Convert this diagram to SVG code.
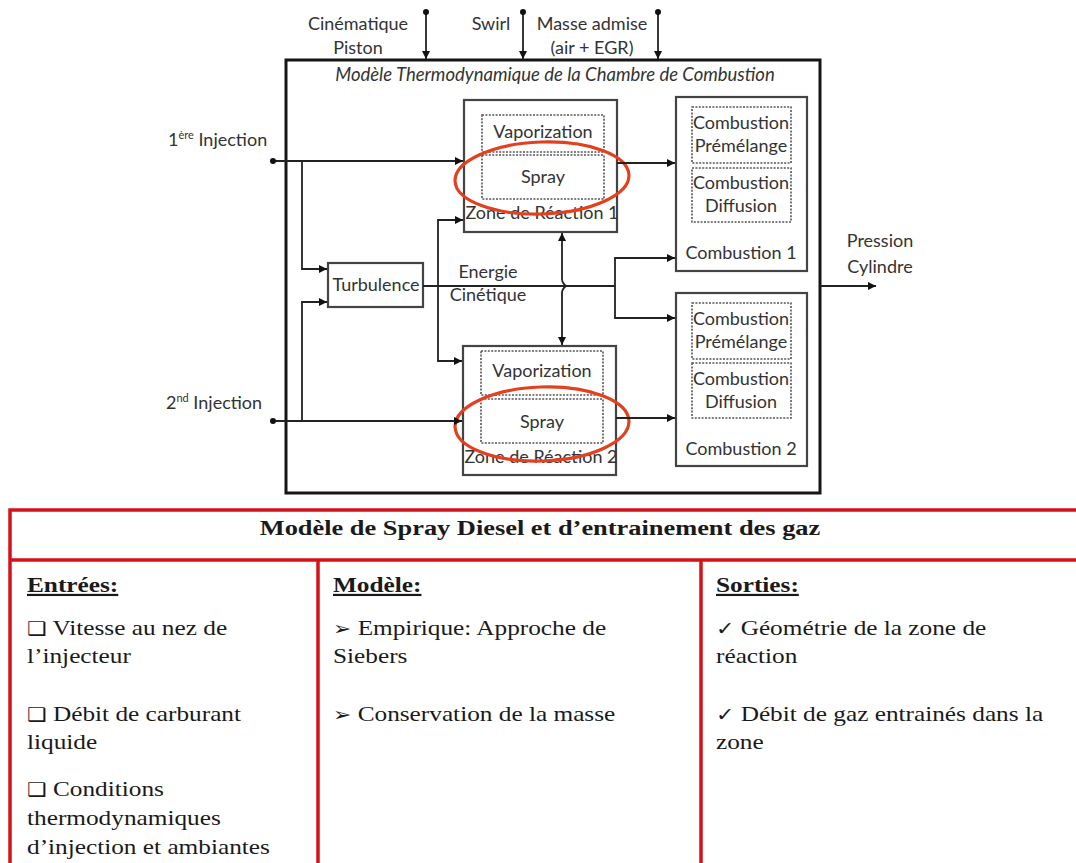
<svg xmlns="http://www.w3.org/2000/svg" width="1076" height="863" viewBox="0 0 1076 863">
  <style>
    .lbl { font-family: Lato, "Open Sans", sans-serif; font-size: 18px; fill: #333; }
    .mid { text-anchor: middle; }
    .ttl { font-style: italic; font-size: 18.5px; }
    .main { fill: none; stroke: #151515; stroke-width: 3; }
    .box { fill: #fff; stroke: #444; stroke-width: 2.2; }
    .sub { fill: none; stroke: #555; stroke-width: 1.6; stroke-dasharray: 2 1.4; }
    .ring { fill: none; stroke: #e2401f; stroke-width: 3.2; }
    .wire { fill: none; stroke: #222; stroke-width: 1.8; }
    .dot { fill: #111; }
    .red { stroke: #d5121a; stroke-width: 3.5; fill: none; }
    .tb { font-family: "Liberation Serif", "Times New Roman", serif; font-size: 22px; fill: #1a1a1a; }
    .hd { font-weight: bold; }
    .ul { font-weight: bold; text-decoration: underline; }
    .sym { font-family: "DejaVu Sans", sans-serif; font-size: 19px; }
  </style>
  <defs>
    <marker id="ah" viewBox="0 0 10 10" refX="10" refY="5" markerWidth="9" markerHeight="8" markerUnits="userSpaceOnUse" orient="auto-start-reverse">
      <path d="M0,0 L10,5 L0,10 z" fill="#111"/>
    </marker>
  </defs>

  <rect width="1076" height="863" fill="#fff"/>

  <!-- chamber model frame -->
  <g id="chamber">
    <rect class="main" x="286" y="60" width="534" height="433"/>
    <text class="lbl ttl mid" x="555" y="81">Modèle Thermodynamique de la Chambre de Combustion</text>
  </g>

  <!-- external inputs -->
  <g id="in-piston">
    <text class="lbl mid" x="358" y="30">Cinématique</text>
    <text class="lbl mid" x="358" y="54">Piston</text>
  </g>
  <g id="in-swirl">
    <text class="lbl mid" x="491" y="30">Swirl</text>
  </g>
  <g id="in-masse">
    <text class="lbl mid" x="592" y="30">Masse admise</text>
    <text class="lbl mid" x="592" y="54">(air + EGR)</text>
  </g>
  <g id="in-inj1">
    <text class="lbl" x="168" y="146">1<tspan font-size="11" dy="-7">ère</tspan><tspan dy="7"> Injection</tspan></text>
  </g>
  <g id="in-inj2">
    <text class="lbl" x="166" y="409">2<tspan font-size="11" dy="-7">nd</tspan><tspan dy="7"> Injection</tspan></text>
  </g>

  <!-- turbulence -->
  <g id="turbulence">
    <rect class="box" x="328" y="263" width="95" height="44"/>
    <text class="lbl mid" x="376" y="291">Turbulence</text>
  </g>
  <g id="energie-label">
    <text class="lbl mid" x="488" y="278">Energie</text>
    <text class="lbl mid" x="488" y="301">Cinétique</text>
  </g>

  <!-- reaction zone 1 -->
  <g id="zone1">
    <rect class="box" x="464" y="100" width="153" height="132"/>
    <rect class="sub" x="482" y="115" width="122" height="37"/>
    <rect class="sub" x="482" y="155" width="122" height="44"/>
    <text class="lbl mid" x="543" y="138">Vaporization</text>
    <text class="lbl mid" x="543" y="183">Spray</text>
    <text class="lbl mid" x="542" y="219">Zone de Réaction 1</text>
    <ellipse class="ring" cx="542" cy="178" rx="87" ry="36" transform="rotate(-2 542 178)"/>
  </g>

  <!-- reaction zone 2 -->
  <g id="zone2">
    <rect class="box" x="463" y="346" width="153" height="129"/>
    <rect class="sub" x="481" y="351" width="122" height="44"/>
    <rect class="sub" x="481" y="399" width="122" height="44"/>
    <text class="lbl mid" x="542" y="377">Vaporization</text>
    <text class="lbl mid" x="542" y="428">Spray</text>
    <text class="lbl mid" x="541" y="463">Zone de Réaction 2</text>
    <ellipse class="ring" cx="542" cy="424" rx="87" ry="37" transform="rotate(-2 542 424)"/>
  </g>

  <!-- combustion 1 -->
  <g id="comb1">
    <rect class="box" x="676" y="97" width="131" height="174"/>
    <rect class="sub" x="692" y="107" width="99" height="56"/>
    <rect class="sub" x="692" y="168" width="99" height="54"/>
    <text class="lbl mid" x="741" y="129">Combustion</text>
    <text class="lbl mid" x="741" y="152">Prémélange</text>
    <text class="lbl mid" x="741" y="189">Combustion</text>
    <text class="lbl mid" x="741" y="212">Diffusion</text>
    <text class="lbl mid" x="741" y="259">Combustion 1</text>
  </g>

  <!-- combustion 2 -->
  <g id="comb2">
    <rect class="box" x="676" y="293" width="131" height="173"/>
    <rect class="sub" x="692" y="303" width="99" height="56"/>
    <rect class="sub" x="692" y="363" width="99" height="55"/>
    <text class="lbl mid" x="741" y="325">Combustion</text>
    <text class="lbl mid" x="741" y="348">Prémélange</text>
    <text class="lbl mid" x="741" y="385">Combustion</text>
    <text class="lbl mid" x="741" y="408">Diffusion</text>
    <text class="lbl mid" x="741" y="455">Combustion 2</text>
  </g>

  <!-- output -->
  <g id="out-pression">
    <text class="lbl mid" x="880" y="247">Pression</text>
    <text class="lbl mid" x="880" y="273">Cylindre</text>
  </g>

  <!-- connectors -->
  <g id="connectors">
    <path class="wire" marker-end="url(#ah)" d="M426,12 V59"/>
    <path class="wire" marker-end="url(#ah)" d="M523,12 V59"/>
    <path class="wire" marker-end="url(#ah)" d="M658,12 V59"/>
    <circle class="dot" cx="426" cy="12" r="3"/>
    <circle class="dot" cx="523" cy="12" r="3"/>
    <circle class="dot" cx="658" cy="12" r="3"/>

    <path class="wire" marker-end="url(#ah)" d="M273,161 H463"/>
    <path class="wire" marker-end="url(#ah)" d="M302,161 V269 H327"/>
    <path class="wire" marker-end="url(#ah)" d="M273,421 H462"/>
    <path class="wire" marker-end="url(#ah)" d="M302,421 V302 H327"/>
    <circle class="dot" cx="273" cy="161" r="3"/>
    <circle class="dot" cx="273" cy="421" r="3"/>

    <path class="wire" d="M423,286 H615"/>
    <path class="wire" marker-end="url(#ah)" d="M615,286 V258 H675"/>
    <path class="wire" marker-end="url(#ah)" d="M615,286 V318 H675"/>
    <path class="wire" marker-end="url(#ah)" d="M438,286 V220 H463"/>
    <path class="wire" marker-end="url(#ah)" d="M438,286 V361 H462"/>

    <path class="wire" marker-start="url(#ah)" marker-end="url(#ah)" d="M562,233 V279 Q562,283 566,286 Q562,289 562,293 V345"/>

    <path class="wire" marker-end="url(#ah)" d="M617,163 H675"/>
    <path class="wire" marker-end="url(#ah)" d="M616,418 H675"/>

    <path class="wire" marker-end="url(#ah)" d="M820,286 H876"/>
  </g>

  <!-- spray model table -->
  <g id="table">
    <path class="red" d="M10,863 V510 H1076 M10,560 H1076 M318,560 V863 M701,560 V863"/>
    <text class="tb hd" text-anchor="middle" transform="translate(540 535) scale(1.2 1)">Modèle de Spray Diesel et d’entrainement des gaz</text>

    <text class="tb ul" transform="translate(27 592) scale(1.15 1)">Entrées:</text>
    <text class="tb" transform="translate(27 635) scale(1.15 1)"><tspan class="sym">❑</tspan> Vitesse au nez de</text>
    <text class="tb" transform="translate(27 663) scale(1.15 1)">l’injecteur</text>
    <text class="tb" transform="translate(27 721) scale(1.15 1)"><tspan class="sym">❑</tspan> Débit de carburant</text>
    <text class="tb" transform="translate(27 749) scale(1.15 1)">liquide</text>
    <text class="tb" transform="translate(27 796) scale(1.15 1)"><tspan class="sym">❑</tspan> Conditions</text>
    <text class="tb" transform="translate(27 825) scale(1.15 1)">thermodynamiques</text>
    <text class="tb" transform="translate(27 854) scale(1.15 1)">d’injection et ambiantes</text>

    <text class="tb ul" transform="translate(333 592) scale(1.15 1)">Modèle:</text>
    <text class="tb" transform="translate(333 635) scale(1.15 1)"><tspan class="sym">➢</tspan> Empirique: Approche de</text>
    <text class="tb" transform="translate(333 663) scale(1.15 1)">Siebers</text>
    <text class="tb" transform="translate(333 721) scale(1.15 1)"><tspan class="sym">➢</tspan> Conservation de la masse</text>

    <text class="tb ul" transform="translate(716 592) scale(1.15 1)">Sorties:</text>
    <text class="tb" transform="translate(716 635) scale(1.15 1)"><tspan class="sym">✓</tspan> Géométrie de la zone de</text>
    <text class="tb" transform="translate(716 663) scale(1.15 1)">réaction</text>
    <text class="tb" transform="translate(716 721) scale(1.15 1)"><tspan class="sym">✓</tspan> Débit de gaz entrainés dans la</text>
    <text class="tb" transform="translate(716 749) scale(1.15 1)">zone</text>
  </g>
</svg>
